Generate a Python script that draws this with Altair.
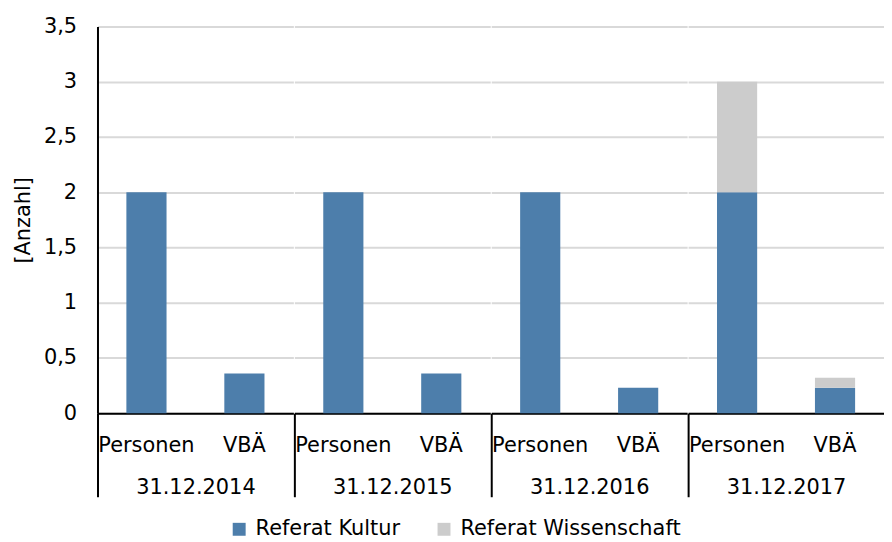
import altair as alt
import pandas as pd

dates = ["31.12.2014", "31.12.2015", "31.12.2016", "31.12.2017"]
types = ["Personen", "VBÄ"]
series = ["Referat Kultur", "Referat Wissenschaft"]
kultur_personen = [2, 2, 2, 2]
kultur_vbae = [0.36, 0.36, 0.23, 0.23]
wiss_personen = [0, 0, 0, 1]
wiss_vbae = [0, 0, 0, 0.09]
y_ticks = [0, 0.5, 1, 1.5, 2, 2.5, 3, 3.5]
colors = ["#4D7EAB", "#CCCCCC"]

rows = []
for i, d in enumerate(dates):
    rows.append(dict(Datum=d, Typ=types[0], Referat=series[0], Wert=kultur_personen[i], o=0))
    rows.append(dict(Datum=d, Typ=types[1], Referat=series[0], Wert=kultur_vbae[i], o=0))
    rows.append(dict(Datum=d, Typ=types[0], Referat=series[1], Wert=wiss_personen[i], o=1))
    rows.append(dict(Datum=d, Typ=types[1], Referat=series[1], Wert=wiss_vbae[i], o=1))
df = pd.DataFrame(rows)

FONT = "DejaVu Sans"
FS = 21
PW = 197
PH = 389


def panel(i, d):
    first = i == 0
    if first:
        yaxis = alt.Axis(
            values=y_ticks, grid=True, gridColor="#d9d9d9", gridWidth=2,
            labelExpr="replace(toString(datum.value), '.', ',')",
            labelFont=FONT, labelFontSize=FS, labelColor="black", labelPadding=21,
            ticks=False, domain=True, domainColor="black", domainWidth=2,
            title="[Anzahl]", titleFont=FONT, titleFontSize=FS, titleFontWeight="normal",
            titleColor="black", titlePadding=10,
        )
    else:
        yaxis = alt.Axis(
            values=y_ticks, grid=True, gridColor="#d9d9d9", gridWidth=2,
            labels=False, ticks=False, domain=False, title=None,
        )
    xaxis = alt.Axis(
        title=d, titleFont=FONT, titleFontSize=FS, titleFontWeight="normal", titleColor="black",
        titleY=81, titleBaseline="alphabetic",
        labelAngle=0, labelFont=FONT, labelFontSize=FS, labelColor="black",
        labelBaseline="alphabetic", labelPadding=-45,
        bandPosition=0, tickSize=84, tickWidth=2,
        tickColor={"condition": {"test": "datum.value === 'Personen'", "value": "black"}, "value": "transparent"},
        domainColor="black", domainWidth=2, grid=False,
    )
    return (
        alt.Chart(df)
        .transform_filter(alt.datum.Datum == d)
        .mark_bar(width=alt.RelativeBandSize(0.41))
        .encode(
            x=alt.X("Typ:N", sort=types, scale=alt.Scale(domain=types, paddingInner=0, paddingOuter=0), axis=xaxis),
            y=alt.Y("Wert:Q", stack="zero", scale=alt.Scale(domain=[0, 3.5], nice=False), axis=yaxis),
            color=alt.Color(
                "Referat:N",
                scale=alt.Scale(domain=series, range=colors),
                legend=alt.Legend(
                    title=None, orient="none", legendX=132, legendY=495, direction="horizontal",
                    symbolType="square", symbolSize=169, symbolStrokeWidth=0,
                    labelFont=FONT, labelFontSize=FS, labelColor="black", labelLimit=400,
                    columnPadding=33, labelOffset=6,
                ),
            ),
            order=alt.Order("o:Q"),
        )
        .properties(width=PW, height=PH)
    )


chart = (
    alt.hconcat(*[panel(i, d) for i, d in enumerate(dates)], spacing=0)
    .properties(padding={"left": 4, "top": 6, "right": 0, "bottom": 0})
    .configure_view(strokeWidth=0)
)

chart.save("out.html", embed_options={"renderer": "svg", "actions": False})
